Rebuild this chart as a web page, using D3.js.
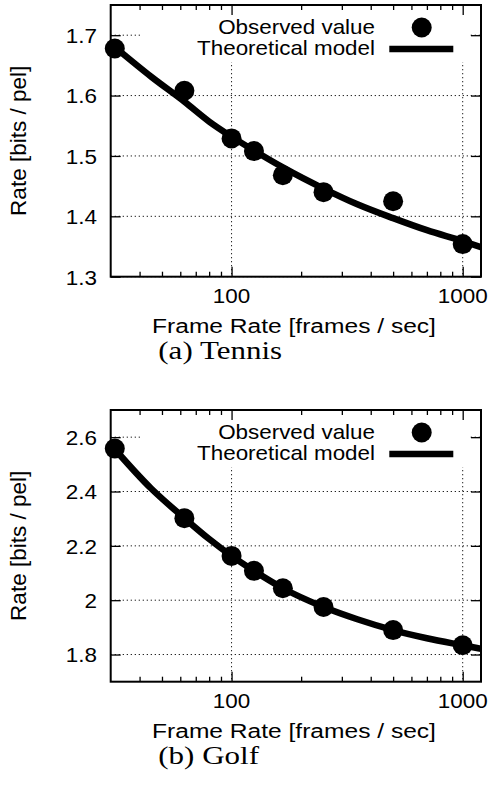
<!DOCTYPE html>
<html lang="en">
<head>
<meta charset="UTF-8">
<title>Rate vs Frame Rate</title>
<script src="https://d3js.org/d3.v7.min.js"></script>
<style>
  body { margin: 0; background: #fff; }
  text { font-family: "Liberation Sans", Arial, sans-serif; fill: #000; }
  .caption { font-family: "Liberation Serif", "Times New Roman", serif; }
</style>
</head>
<body>
<script>

// observed frame rates (1000 / n)
var frameRates = [31.25, 62.5, 100, 125, 166.7, 250, 500, 1000];
var tennisObserved = [1.678, 1.608, 1.529, 1.508, 1.468, 1.440, 1.425, 1.354];
var golfObserved   = [2.558, 2.302, 2.163, 2.108, 2.044, 1.975, 1.890, 1.834];

// theoretical model
var modelRates  = [30, 45, 62.5, 80, 100, 125, 166.7, 250, 350, 500, 700, 1000, 1200];
var tennisModel = [1.686, 1.631, 1.590, 1.557, 1.532, 1.509, 1.481, 1.446, 1.420, 1.397, 1.377, 1.359, 1.349];
var golfModel   = [2.573, 2.410, 2.302, 2.225, 2.163, 2.108, 2.044, 1.975, 1.930, 1.890, 1.860, 1.834, 1.821];

var xTicks = [100, 1000];
var xMinor = [40, 50, 60, 70, 80, 90, 200, 300, 400, 500, 600, 700, 800, 900];
var tennisTicks = [1.3, 1.4, 1.5, 1.6, 1.7];
var golfTicks = [1.8, 2.0, 2.2, 2.4, 2.6];

var W = 493, H = 788;
var svg = d3.select("body").append("svg")
    .attr("width", W)
    .attr("height", H);

var left = 110.7, right = 481;
var xScale = d3.scaleLog().domain([30, 1200]).range([left, right]);

// text that is a bit wider than the font, like the source picture
function stext(g, x, y, anchor, size, sx, str) {
    return g.append("text")
        .attr("transform", "translate(" + x + "," + y + ") scale(" + sx + ",1)")
        .attr("text-anchor", anchor)
        .style("font-size", size + "px")
        .text(str);
}

function panel(cfg) {
    var top = cfg.top, bottom = cfg.top + 271.7;
    var yScale = d3.scaleLinear().domain(cfg.domain).range([bottom, top]);
    var g = svg.append("g");

    var clipId = "clip" + cfg.id;
    svg.append("clipPath").attr("id", clipId)
        .append("rect").attr("x", left).attr("y", top)
        .attr("width", right - left).attr("height", bottom - top);

    // grid
    g.selectAll(".hgrid").data(cfg.ticks).enter().append("line")
        .attr("x1", left).attr("x2", right)
        .attr("y1", function (d) { return yScale(d); })
        .attr("y2", function (d) { return yScale(d); })
        .attr("stroke", "#222").attr("stroke-width", 1)
        .attr("stroke-dasharray", "1.3,2.7");
    g.selectAll(".vgrid").data(xTicks).enter().append("line")
        .attr("x1", function (d) { return xScale(d); })
        .attr("x2", function (d) { return xScale(d); })
        .attr("y1", top).attr("y2", bottom)
        .attr("stroke", "#222").attr("stroke-width", 1)
        .attr("stroke-dasharray", "1.3,2.7");

    // opaque key box
    g.append("rect")
        .attr("x", 142).attr("y", top)
        .attr("width", 470 - 142).attr("height", 57)
        .attr("fill", "#fff");

    // ticks (inward, mirrored)
    g.append("g").attr("transform", "translate(" + left + ",0)")
        .call(d3.axisLeft(yScale).tickValues(cfg.ticks).tickSize(-10).tickFormat(""));
    g.append("g").attr("transform", "translate(" + right + ",0)")
        .call(d3.axisRight(yScale).tickValues(cfg.ticks).tickSize(-10).tickFormat(""));
    g.append("g").attr("transform", "translate(0," + bottom + ")")
        .call(d3.axisBottom(xScale).tickValues(xTicks).tickSize(-10).tickFormat(""));
    g.append("g").attr("transform", "translate(0," + top + ")")
        .call(d3.axisTop(xScale).tickValues(xTicks).tickSize(-10).tickFormat(""));
    g.append("g").attr("transform", "translate(0," + bottom + ")")
        .call(d3.axisBottom(xScale).tickValues(xMinor).tickSize(-5).tickFormat(""));
    g.append("g").attr("transform", "translate(0," + top + ")")
        .call(d3.axisTop(xScale).tickValues(xMinor).tickSize(-5).tickFormat(""));
    g.selectAll(".domain").remove();
    g.selectAll(".tick line").attr("stroke", "#000").attr("stroke-width", 1.3);

    // tick labels
    cfg.ticks.forEach(function (d) {
        stext(g, 97, yScale(d) + 7.8, "end", 21, 1.07, String(+d.toFixed(1)));
    });
    xTicks.forEach(function (d) {
        stext(g, xScale(d), bottom + 26.6, "middle", 21, 1.07, String(d));
    });

    // axis titles and caption
    g.append("text")
        .attr("transform", "translate(25.5," + ((top + bottom) / 2) + ") rotate(-90)")
        .attr("text-anchor", "middle")
        .style("font-size", "22.5px")
        .text("Rate [bits / pel]");
    stext(g, 294, bottom + 55.8, "middle", 21, 1.17, "Frame Rate [frames / sec]");
    stext(g, 158.3, bottom + 82.2, "start", 25, 1.24, cfg.caption).attr("class", "caption");

    // model curve
    var line = d3.line()
        .x(function (d) { return xScale(d[0]); })
        .y(function (d) { return yScale(d[1]); })
        .curve(d3.curveMonotoneX);
    g.append("path")
        .datum(d3.zip(modelRates, cfg.model))
        .attr("clip-path", "url(#" + clipId + ")")
        .attr("d", line)
        .attr("fill", "none")
        .attr("stroke", "#000")
        .attr("stroke-width", 6.5);

    // observed points
    g.selectAll(".pt").data(d3.zip(frameRates, cfg.observed)).enter().append("circle")
        .attr("cx", function (d) { return xScale(d[0]); })
        .attr("cy", function (d) { return yScale(d[1]); })
        .attr("r", 10)
        .attr("fill", "#000");

    // legend
    stext(g, 375, top + 29, "end", 20, 1.12, "Observed value");
    stext(g, 375, top + 49.5, "end", 20, 1.12, "Theoretical model");
    g.append("circle").attr("cx", 421.7).attr("cy", top + 22.5).attr("r", 10).attr("fill", "#000");
    g.append("line").attr("x1", 389.3).attr("x2", 453.3)
        .attr("y1", top + 44).attr("y2", top + 44)
        .attr("stroke", "#000").attr("stroke-width", 6.5);

    // border
    g.append("rect")
        .attr("x", left).attr("y", top)
        .attr("width", right - left).attr("height", bottom - top)
        .attr("fill", "none").attr("stroke", "#000").attr("stroke-width", 2);
}

panel({ id: "a", top: 5, domain: [1.3, 1.75], ticks: tennisTicks,
        observed: tennisObserved, model: tennisModel, caption: "(a) Tennis" });
panel({ id: "b", top: 410, domain: [1.7, 2.7], ticks: golfTicks,
        observed: golfObserved, model: golfModel, caption: "(b) Golf" });

</script>
</body>
</html>
